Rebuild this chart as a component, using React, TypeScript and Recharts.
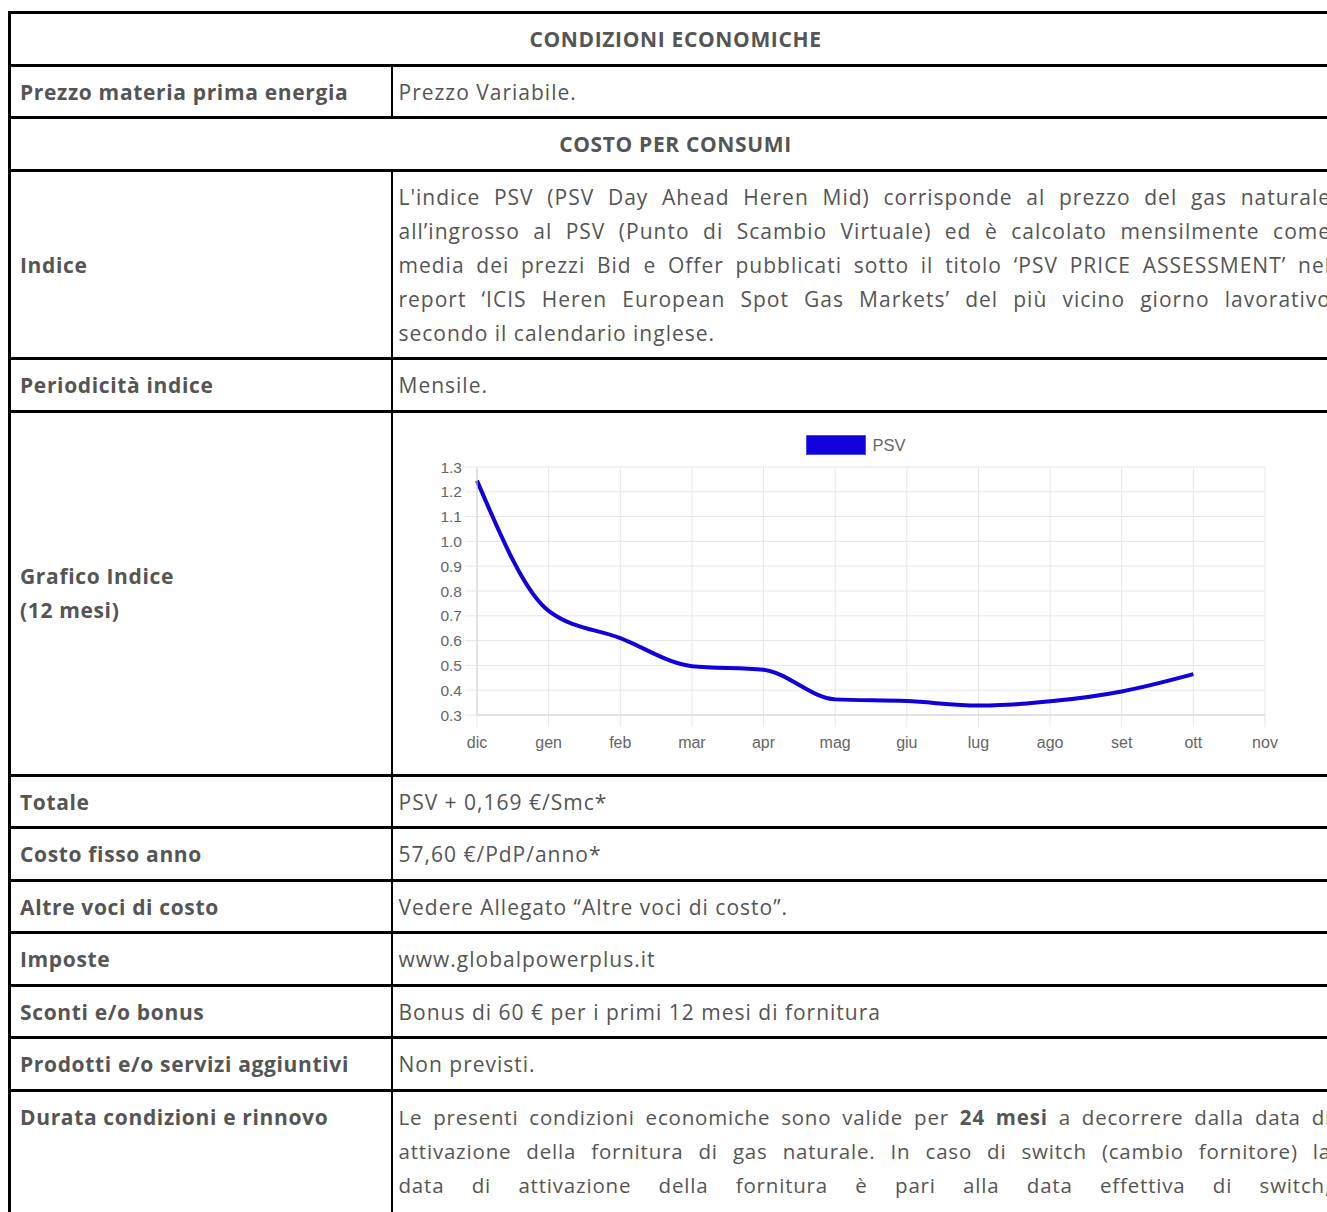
import React from 'react';
import { LineChart, Line, XAxis, YAxis, CartesianGrid, Legend } from 'recharts';

const months = ['dic', 'gen', 'feb', 'mar', 'apr', 'mag', 'giu', 'lug', 'ago', 'set', 'ott', 'nov'];
const psvValues: (number | null)[] = [1.245, 0.72, 0.61, 0.497, 0.482, 0.363, 0.356, 0.338, 0.355, 0.395, 0.465, null];
const yTicks = [0.3, 0.4, 0.5, 0.6, 0.7, 0.8, 0.9, 1.0, 1.1, 1.2, 1.3];
const seriesName = 'PSV';

const chartData = months.map((m, i) => ({ month: m, psv: psvValues[i] }));

const LINE_COLOR = '#1200dc';
const GRID = '#e6e6e6';
const TEXT = '#555';

const hBorder = '3px solid #000';
const vBorder = '2px solid #000';

const cellBase: React.CSSProperties = {
  borderTop: hBorder,
  borderBottom: hBorder,
  paddingTop: 8,
  paddingBottom: 7.5,
  paddingLeft: 9,
  paddingRight: 10,
  verticalAlign: 'middle',
};
const boldText: React.CSSProperties = { fontWeight: 700, letterSpacing: '0.65px' };
const leftCell: React.CSSProperties = { ...cellBase, ...boldText, borderLeft: '3px solid #000', borderRight: vBorder };
const rightCell: React.CSSProperties = { ...cellBase, paddingLeft: 6, borderLeft: vBorder, textAlign: 'left', letterSpacing: '1px' };
const fullCell: React.CSSProperties = { ...cellBase, ...boldText, borderLeft: '3px solid #000', textAlign: 'center' };
const chartCell: React.CSSProperties = { ...rightCell, paddingTop: 0, paddingBottom: 0, paddingLeft: 0, paddingRight: 0, letterSpacing: 0 };

const indiceLines = [
  "L'indice PSV (PSV Day Ahead Heren Mid) corrisponde al prezzo del gas naturale",
  'all’ingrosso al PSV (Punto di Scambio Virtuale) ed è calcolato mensilmente come',
  'media dei prezzi Bid e Offer pubblicati sotto il titolo ‘PSV PRICE ASSESSMENT’ nel',
  'report ‘ICIS Heren European Spot Gas Markets’ del più vicino giorno lavorativo',
  'secondo il calendario inglese.',
];

const JustifiedLines = ({ lines, lastJustified = false, style }: { lines: React.ReactNode[]; lastJustified?: boolean; style?: React.CSSProperties }) => (
  <div style={style}>
    {lines.map((l, i) => {
      const justify = i < lines.length - 1 || lastJustified;
      return (
        <div
          key={i}
          style={{
            whiteSpace: 'nowrap',
            textAlign: justify ? 'justify' : 'left',
            textAlignLast: justify ? 'justify' : 'left',
          } as React.CSSProperties}
        >
          {l}
        </div>
      );
    })}
  </div>
);

const durataLines: React.ReactNode[] = [
  <>Le presenti condizioni economiche sono valide per <b>24 mesi</b> a decorrere dalla data di</>,
  'attivazione della fornitura di gas naturale. In caso di switch (cambio fornitore) la',
  'data di attivazione della fornitura è pari alla data effettiva di switch,',
];

const LegendContent = () => (
  <div style={{ height: 44, display: 'flex', alignItems: 'center', paddingLeft: 413, boxSizing: 'border-box' }}>
    <span style={{ display: 'inline-block', width: 58, height: 18, background: LINE_COLOR, border: '1px solid #4a4aff' }} />
    <span style={{ marginLeft: 7, fontFamily: '"Liberation Sans", Arial, sans-serif', fontSize: 16.5, color: '#666' }}>{seriesName}</span>
  </div>
);

const axisFont = { fill: '#666', fontSize: 15.5, fontFamily: '"Liberation Sans", Arial, sans-serif' };

const PsvChart = () => (
  <LineChart width={898} height={361} data={chartData} margin={{ top: 10, right: 26, bottom: 14, left: 0 }}>
    <CartesianGrid stroke={GRID} strokeWidth={1} />
    <Legend verticalAlign="top" align="left" content={<LegendContent />} />
    <XAxis
      dataKey="month"
      stroke="#d2d2d2"
      tickLine={{ stroke: GRID }}
      tickSize={12}
      tickMargin={10}
      height={45}
      interval={0}
      tick={{ ...axisFont, fontSize: 16 }}
    />
    <YAxis
      domain={[0.3, 1.3]}
      ticks={yTicks}
      width={84}
      stroke="#d2d2d2"
      tickLine={{ stroke: GRID }}
      tickSize={12}
      tickMargin={3}
      tickFormatter={(v: number) => v.toFixed(1)}
      tick={axisFont}
    />
    <Line
      type="monotone"
      dataKey="psv"
      name={seriesName}
      stroke={LINE_COLOR}
      strokeWidth={4}
      dot={false}
      activeDot={false}
      isAnimationActive={false}
    />
  </LineChart>
);

const simpleRows: [string, React.ReactNode][] = [
  ['Totale', 'PSV + 0,169 €/Smc*'],
  ['Costo fisso anno', '57,60 €/PdP/anno*'],
  ['Altre voci di costo', 'Vedere Allegato “Altre voci di costo”.'],
  ['Imposte', 'www.globalpowerplus.it'],
  ['Sconti e/o bonus', 'Bonus di 60 € per i primi 12 mesi di fornitura'],
  ['Prodotti e/o servizi aggiuntivi', 'Non previsti.'],
];

export default function App() {
  return (
    <div
      style={{
        position: 'fixed',
        left: 8,
        top: 8,
        width: 1319,
        height: 1204,
        overflow: 'hidden',
        background: '#fff',
      }}
    >
      <table
        style={{
          borderCollapse: 'collapse',
          width: 1333,
          marginTop: 3,
          fontFamily: '"Open Sans", sans-serif',
          fontSize: 21,
          lineHeight: '34px',
          color: TEXT,
          tableLayout: 'fixed',
        }}
      >
        <colgroup>
          <col style={{ width: 382 }} />
          <col />
        </colgroup>
        <tbody>
          <tr>
            <td colSpan={2} style={fullCell}>CONDIZIONI ECONOMICHE</td>
          </tr>
          <tr>
            <td style={leftCell}>Prezzo materia prima energia</td>
            <td style={rightCell}>Prezzo Variabile.</td>
          </tr>
          <tr>
            <td colSpan={2} style={fullCell}>COSTO PER CONSUMI</td>
          </tr>
          <tr>
            <td style={leftCell}>Indice</td>
            <td style={rightCell}>
              <JustifiedLines lines={indiceLines} />
            </td>
          </tr>
          <tr>
            <td style={leftCell}>Periodicità indice</td>
            <td style={rightCell}>Mensile.</td>
          </tr>
          <tr>
            <td style={leftCell}>
              Grafico Indice
              <br />
              (12 mesi)
            </td>
            <td style={chartCell}>
              <PsvChart />
            </td>
          </tr>
          {simpleRows.map(([label, value]) => (
            <tr key={label}>
              <td style={leftCell}>{label}</td>
              <td style={rightCell}>{value}</td>
            </tr>
          ))}
          <tr>
            <td style={{ ...leftCell, verticalAlign: 'top' }}>Durata condizioni e rinnovo</td>
            <td style={{ ...rightCell, verticalAlign: 'top', paddingBottom: 40 }}>
              <JustifiedLines lines={durataLines} lastJustified style={{ letterSpacing: '0.8px', fontSize: 20.5 }} />
            </td>
          </tr>
        </tbody>
      </table>
    </div>
  );
}
